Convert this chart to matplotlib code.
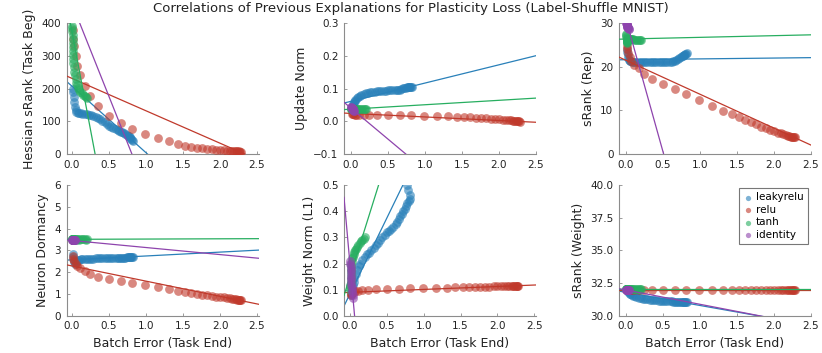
import numpy as np
import matplotlib
matplotlib.use("Agg")
from matplotlib import pyplot as plt

names = ["leakyrelu", "relu", "tanh", "identity"]
colors = ["#2980b9", "#c0392b", "#27ae60", "#8e44ad"]

# batch error at task end, per activation
x_leaky = [0.02, 0.02, 0.03, 0.03, 0.04, 0.05, 0.06, 0.08, 0.10, 0.12, 0.14, 0.17, 0.20, 0.23,
           0.26, 0.29, 0.32, 0.35, 0.38, 0.41, 0.44, 0.47, 0.50, 0.53, 0.56, 0.59, 0.62, 0.64,
           0.66, 0.68, 0.70, 0.72, 0.74, 0.76, 0.78, 0.80, 0.82, 0.81, 0.79, 0.77]
x_relu = [0.01, 0.02, 0.03, 0.05, 0.07, 0.11, 0.17, 0.24, 0.35, 0.50, 0.66, 0.81, 0.99, 1.16,
          1.31, 1.43, 1.53, 1.61, 1.69, 1.76, 1.83, 1.89, 1.95, 2.00, 2.05, 2.09, 2.13, 2.16,
          2.19, 2.21, 2.23, 2.25, 2.26, 2.27, 2.28]
x_tanh = [0.00, 0.00, 0.00, 0.01, 0.01, 0.01, 0.01, 0.02, 0.02, 0.02, 0.02, 0.03, 0.03, 0.04,
          0.05, 0.06, 0.07, 0.08, 0.10, 0.11, 0.13, 0.15, 0.17, 0.19, 0.20]
x_ident = [0.00, 0.00, 0.01, 0.01, 0.01, 0.01, 0.02, 0.02, 0.02, 0.02, 0.03, 0.03, 0.03, 0.04, 0.04]

# Hessian sRank (Task Beg)
hess_leaky = [200, 190, 175, 160, 145, 135, 128, 125, 124, 124, 123, 122, 122, 120, 118, 116,
              114, 110, 106, 101, 97, 92, 87, 83, 80, 77, 74, 71, 68, 66, 64, 61, 59, 56, 52,
              47, 41, 43, 49, 54]
hess_relu = [380, 350, 330, 300, 270, 240, 208, 178, 146, 115, 95, 77, 62, 49, 39, 32, 26, 22,
             19, 17, 15, 14, 13, 12, 11, 10, 10, 9, 9, 8, 8, 8, 7, 7, 7]
hess_tanh = [392, 385, 375, 365, 352, 340, 328, 315, 302, 290, 278, 265, 252, 240, 228, 218,
             210, 203, 196, 190, 185, 181, 177, 174, 172]
hess_ident = [470, 465, 462, 458, 455, 452, 450, 447, 444, 441, 438, 436, 433, 430, 428]

# Update Norm
upd_leaky = [0.042, 0.046, 0.050, 0.054, 0.058, 0.062, 0.066, 0.070, 0.074, 0.078, 0.080, 0.083,
             0.085, 0.087, 0.088, 0.089, 0.090, 0.091, 0.092, 0.092, 0.093, 0.093, 0.094, 0.094,
             0.094, 0.095, 0.095, 0.096, 0.097, 0.099, 0.101, 0.102, 0.103, 0.104, 0.104, 0.105,
             0.105, 0.106, 0.104, 0.104]
upd_relu = [0.022, 0.021, 0.021, 0.020, 0.020, 0.020, 0.020, 0.020, 0.020, 0.020, 0.019, 0.018,
            0.017, 0.016, 0.015, 0.014, 0.013, 0.012, 0.011, 0.010, 0.009, 0.008, 0.007, 0.006,
            0.005, 0.004, 0.003, 0.003, 0.002, 0.002, 0.001, 0.001, 0.000, 0.000, -0.001]
upd_tanh = [0.040, 0.039, 0.038, 0.039, 0.037, 0.038, 0.036, 0.038, 0.037, 0.039, 0.036, 0.037,
            0.038, 0.037, 0.036, 0.037, 0.038, 0.037, 0.036, 0.037, 0.037, 0.036, 0.037, 0.036, 0.036]
upd_ident = [0.044, 0.043, 0.042, 0.041, 0.040, 0.039, 0.038, 0.037, 0.036, 0.036, 0.035, 0.034,
             0.033, 0.032, 0.031]

# sRank (Rep)
rep_leaky = [24.0, 23.3, 22.6, 22.0, 21.6, 21.3, 21.2, 21.1, 21.0, 21.0, 21.0, 21.0, 21.0, 21.0,
             21.0, 21.0, 21.0, 21.0, 21.0, 21.0, 21.0, 21.0, 21.0, 21.0, 21.0, 21.0, 21.1, 21.2,
             21.4, 21.6, 21.8, 22.0, 22.2, 22.4, 22.6, 22.8, 23.1, 23.0, 22.7, 22.5]
rep_relu = [24.8, 24.0, 23.2, 22.3, 21.3, 20.5, 19.6, 18.4, 17.1, 16.1, 14.9, 13.7, 12.4, 11.1,
            9.9, 9.1, 8.4, 7.9, 7.3, 6.8, 6.3, 5.9, 5.5, 5.2, 4.9, 4.7, 4.5, 4.3, 4.2, 4.1, 4.0,
            3.9, 3.9, 3.8, 3.8]
rep_tanh = [27.5, 27.2, 26.9, 26.6, 26.3, 26.0, 25.7, 25.5, 25.6, 25.8, 26.0, 26.2, 26.3, 26.4,
            26.4, 26.4, 26.4, 26.3, 26.3, 26.2, 26.2, 26.2, 26.2, 26.1, 26.1]
rep_ident = [30.0, 29.9, 29.8, 29.7, 29.6, 29.5, 29.4, 29.3, 29.2, 29.1, 29.0, 28.9, 28.8, 28.7, 28.6]

# Neuron Dormancy
dorm_leaky = [2.85, 2.70, 2.55, 2.45, 2.40, 2.45, 2.50, 2.55, 2.58, 2.60, 2.61, 2.62, 2.62, 2.63,
              2.63, 2.63, 2.64, 2.64, 2.64, 2.64, 2.64, 2.65, 2.65, 2.65, 2.65, 2.65, 2.65, 2.66,
              2.66, 2.66, 2.67, 2.67, 2.68, 2.68, 2.69, 2.70, 2.70, 2.70, 2.69, 2.69]
dorm_relu = [2.75, 2.60, 2.50, 2.40, 2.30, 2.18, 2.04, 1.92, 1.80, 1.68, 1.59, 1.50, 1.40, 1.31,
             1.22, 1.16, 1.10, 1.05, 1.01, 0.98, 0.95, 0.92, 0.89, 0.87, 0.85, 0.82, 0.80, 0.79,
             0.77, 0.76, 0.75, 0.74, 0.73, 0.72, 0.71]
dorm_tanh = [3.52, 3.51, 3.52, 3.50, 3.51, 3.52, 3.50, 3.51, 3.52, 3.51, 3.50, 3.51, 3.52, 3.51,
             3.50, 3.51, 3.52, 3.51, 3.50, 3.51, 3.51, 3.52, 3.51, 3.50, 3.51]
dorm_ident = [3.47, 3.48, 3.47, 3.46, 3.48, 3.47, 3.47, 3.46, 3.48, 3.47, 3.47, 3.46, 3.47, 3.48, 3.47]

# Weight Norm (L1)
wn_leaky = [0.080, 0.090, 0.100, 0.110, 0.120, 0.130, 0.145, 0.160, 0.175, 0.190, 0.200, 0.215,
            0.225, 0.235, 0.242, 0.250, 0.260, 0.270, 0.280, 0.290, 0.300, 0.310, 0.320, 0.325,
            0.330, 0.340, 0.350, 0.360, 0.370, 0.380, 0.390, 0.400, 0.410, 0.420, 0.430, 0.440,
            0.445, 0.460, 0.480, 0.500]
wn_relu = [0.080, 0.085, 0.088, 0.092, 0.095, 0.097, 0.099, 0.100, 0.101, 0.103, 0.104, 0.105,
           0.106, 0.107, 0.108, 0.109, 0.110, 0.110, 0.111, 0.111, 0.112, 0.112, 0.113, 0.113,
           0.114, 0.114, 0.114, 0.115, 0.115, 0.115, 0.116, 0.116, 0.116, 0.116, 0.116]
wn_tanh = [0.10, 0.11, 0.12, 0.13, 0.14, 0.15, 0.16, 0.17, 0.18, 0.19, 0.20, 0.21, 0.22, 0.225,
           0.235, 0.245, 0.25, 0.255, 0.265, 0.27, 0.28, 0.285, 0.29, 0.295, 0.30]
wn_ident = [0.21, 0.20, 0.19, 0.18, 0.17, 0.16, 0.15, 0.14, 0.13, 0.12, 0.11, 0.10, 0.09, 0.08, 0.07]

# sRank (Weight)
sw_leaky = [32.0, 31.95, 31.9, 31.85, 31.8, 31.7, 31.65, 31.6, 31.55, 31.5, 31.45, 31.4, 31.35,
            31.32, 31.3, 31.27, 31.24, 31.22, 31.2, 31.18, 31.17, 31.16, 31.15, 31.14, 31.13,
            31.12, 31.11, 31.1, 31.1, 31.09, 31.08, 31.08, 31.07, 31.07, 31.06, 31.05, 31.05,
            31.05, 31.06, 31.06]
sw_relu = [32.0] * 35
sw_tanh = [32.05] * 25
sw_ident = [32.0] * 15

# regression lines (intercept, slope) per series
fit_hess = [(207, -203), (231, -99), (373, -1195), (459, -567)]
fit_upd = [(0.061, 0.0557), (0.024, -0.0108), (0.037, 0.0135), (0.040, -0.189)]
fit_rep = [(21.6, 0.19), (21.46, -7.76), (26.34, 0.385), (30.85, -60.6)]
fit_dorm = [(2.57, 0.177), (2.29, -0.696), (3.51, 0.012), (3.457, -0.323)]
fit_wn = [(0.084, 0.579), (0.090, 0.0112), (0.150, 0.90), (0.20, -3.16)]
fit_sw = [(31.8, -1.0), (32.0, 0.0), (32.02, 0.0), (31.98, -1.09)]

panels = [
    ("Hessian sRank (Task Beg)", [hess_leaky, hess_relu, hess_tanh, hess_ident], fit_hess,
     (0, 400), [0, 100, 200, 300, 400], ["0", "100", "200", "300", "400"], (-0.072, 2.52)),
    ("Update Norm", [upd_leaky, upd_relu, upd_tanh, upd_ident], fit_upd,
     (-0.1, 0.3), [-0.1, 0.0, 0.1, 0.2, 0.3], ["\u22120.1", "0.0", "0.1", "0.2", "0.3"], (-0.095, 2.5)),
    ("sRank (Rep)", [rep_leaky, rep_relu, rep_tanh, rep_ident], fit_rep,
     (0, 30), [0, 10, 20, 30], ["0", "10", "20", "30"], (-0.095, 2.5)),
    ("Neuron Dormancy", [dorm_leaky, dorm_relu, dorm_tanh, dorm_ident], fit_dorm,
     (0, 6), [0, 1, 2, 3, 4, 5, 6], ["0", "1", "2", "3", "4", "5", "6"], (-0.072, 2.52)),
    ("Weight Norm (L1)", [wn_leaky, wn_relu, wn_tanh, wn_ident], fit_wn,
     (0, 0.5), [0, 0.1, 0.2, 0.3, 0.4, 0.5], ["0.0", "0.1", "0.2", "0.3", "0.4", "0.5"], (-0.08, 2.52)),
    ("sRank (Weight)", [sw_leaky, sw_relu, sw_tanh, sw_ident], fit_sw,
     (30, 40), [30, 32.5, 35, 37.5, 40], ["30.0", "32.5", "35.0", "37.5", "40.0"], (-0.095, 2.5)),
]

xs = [x_leaky, x_relu, x_tanh, x_ident]
xticks = [0.0, 0.5, 1.0, 1.5, 2.0, 2.5]

fig = plt.figure(figsize=(8.22, 3.53), dpi=100)
lefts = [0.0811, 0.4185, 0.753]
bottoms = [0.5637, 0.105]
w, h = 0.2334, 0.371

for i, (ylabel, ys, fits, ylim, yt, ytl, xlim) in enumerate(panels):
    ax = fig.add_axes([lefts[i % 3], bottoms[i // 3], w, h])
    for k in range(4):
        ax.scatter(xs[k], ys[k], s=40, color=colors[k], alpha=0.6, linewidths=0,
                   label=names[k], zorder=2 + k)
        b, m = fits[k]
        lx = np.array(xlim)
        ax.plot(lx, b + m * lx, color=colors[k], lw=0.9, zorder=2 + k)
    ax.set_xlim(xlim)
    ax.set_ylim(ylim)
    ax.set_xticks(xticks)
    ax.set_xticklabels(["0.0", "0.5", "1.0", "1.5", "2.0", "2.5"])
    ax.set_yticks(yt)
    ax.set_yticklabels(ytl)
    ax.tick_params(direction="in", length=2.5, width=0.6, color="#8c8c8c",
                   labelsize=7.5, labelcolor="#222222", pad=4)
    for sp in ["top", "right"]:
        ax.spines[sp].set_visible(False)
    for sp in ["left", "bottom"]:
        ax.spines[sp].set_color("#8c8c8c")
        ax.spines[sp].set_linewidth(0.8)
    ax.set_ylabel(ylabel, fontsize=9, color="#222222")
    if i >= 3:
        ax.set_xlabel("Batch Error (Task End)", fontsize=9, color="#222222")
    if i == 5:
        leg = ax.legend(loc="upper right", fontsize=7.5, frameon=True, fancybox=False,
                        handletextpad=0.2, borderpad=0.4, labelspacing=0.25,
                        handlelength=1.0, markerscale=0.6, borderaxespad=0.3)
        leg.get_frame().set_edgecolor("#555555")
        leg.get_frame().set_linewidth(0.8)

fig.suptitle("Correlations of Previous Explanations for Plasticity Loss (Label-Shuffle MNIST)",
             fontsize=9.5, y=0.995, color="#222222")

fig.savefig("out.png", dpi=100)
